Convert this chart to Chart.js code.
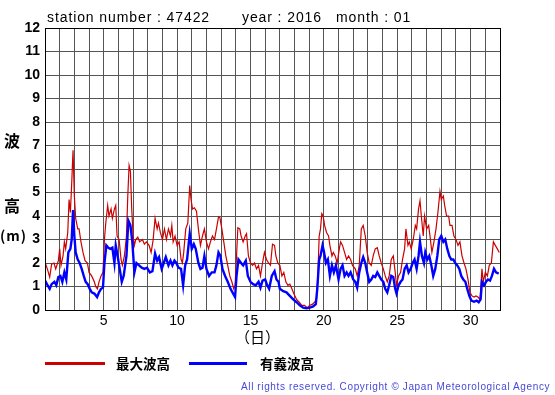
<!DOCTYPE html>
<html><head><meta charset="utf-8">
<script src="https://cdn.jsdelivr.net/npm/chart.js@4.4.0/dist/chart.umd.min.js"></script>
<style>
html,body{margin:0;padding:0;background:#fff;}
#wrap{position:relative;width:555px;height:395px;overflow:hidden;background:#fff;}
canvas{position:absolute;left:0;top:0;}
.t{position:absolute;white-space:nowrap;font-family:"Liberation Sans",Arial,sans-serif;color:#000;line-height:1;}
.j{position:absolute;white-space:nowrap;font-family:"Noto Sans CJK JP",sans-serif;color:#000;line-height:1;font-weight:bold;}
.ln{position:absolute;height:3px;}
</style></head><body>
<div id="wrap">
<canvas id="c" width="555" height="395"></canvas>
<div class="t" style="left:47px;top:10px;font-size:14px;letter-spacing:0.9px">station number : 47422</div>
<div class="t" style="left:242px;top:10px;font-size:14px;letter-spacing:0.9px">year : 2016</div>
<div class="t" style="left:336px;top:10px;font-size:14px;letter-spacing:0.9px">month : 01</div>
<div class="j" style="left:4px;top:132px;font-size:16px">波</div>
<div class="j" style="left:4px;top:197px;font-size:16px">高</div>
<div class="j" style="left:0px;top:228px;font-size:14px;letter-spacing:1px">(m)</div>
<div class="j" style="left:235px;top:329px;font-size:15px;font-weight:normal">（日）</div>
<div class="ln" style="left:45px;top:362px;width:60px;background:#cc0000"></div>
<div class="j" style="left:116px;top:357px;font-size:13.5px">最大波高</div>
<div class="ln" style="left:189px;top:362px;width:58px;background:#0000ff"></div>
<div class="j" style="left:260px;top:357px;font-size:13.5px">有義波高</div>
<div class="t" style="left:241px;top:382px;font-size:10px;letter-spacing:0.62px;color:#4848d8">All rights reserved. Copyright © Japan Meteorological Agency</div>
</div>
<script>
// 最大波高 (maximum wave height), time in days
const maxTimes = [1.00,1.16,1.32,1.45,1.61,1.73,1.91,2.00,2.09,2.23,2.32,2.41,2.55,2.64,2.73,2.82,2.91,3.00,3.09,3.23,3.32,3.45,3.59,3.73,3.89,4.00,4.18,4.36,4.45,4.57,4.68,4.82,4.95,5.05,5.14,5.27,5.36,5.50,5.59,5.73,5.82,5.91,6.05,6.18,6.27,6.41,6.55,6.64,6.73,6.82,6.91,7.00,7.09,7.18,7.32,7.45,7.64,7.77,7.91,8.09,8.23,8.36,8.50,8.64,8.73,8.86,9.00,9.14,9.27,9.41,9.55,9.64,9.73,9.86,10.00,10.14,10.27,10.36,10.45,10.59,10.73,10.86,10.95,11.05,11.18,11.32,11.45,11.59,11.73,11.86,12.00,12.14,12.27,12.41,12.55,12.68,12.82,12.91,13.05,13.18,13.32,13.45,13.59,13.73,13.86,13.95,14.05,14.14,14.27,14.36,14.50,14.64,14.73,14.86,15.00,15.14,15.27,15.41,15.55,15.68,15.82,15.95,16.09,16.23,16.36,16.50,16.64,16.73,16.86,17.00,17.14,17.27,17.41,17.55,17.68,17.82,17.95,18.14,18.32,18.50,18.68,18.86,19.05,19.23,19.36,19.50,19.59,19.68,19.77,19.86,19.95,20.05,20.18,20.32,20.41,20.55,20.64,20.77,20.91,21.05,21.14,21.27,21.41,21.55,21.68,21.82,21.95,22.14,22.27,22.41,22.55,22.68,22.82,22.95,23.09,23.23,23.36,23.50,23.64,23.77,23.91,24.05,24.18,24.32,24.45,24.59,24.73,24.86,24.95,25.09,25.23,25.36,25.50,25.59,25.73,25.82,25.95,26.09,26.23,26.32,26.45,26.55,26.64,26.77,26.86,27.00,27.14,27.23,27.36,27.50,27.64,27.77,27.91,28.00,28.14,28.23,28.36,28.50,28.59,28.73,28.86,29.00,29.14,29.27,29.41,29.55,29.68,29.82,29.95,30.09,30.23,30.36,30.50,30.64,30.77,30.86,31.00,31.14,31.27,31.41,31.55,31.68,31.82,31.95];
const maxWaves = [2.03,1.75,1.40,1.95,2.00,1.75,2.10,2.60,1.90,2.30,2.90,2.60,3.30,4.70,4.15,5.40,6.80,4.85,3.90,3.45,3.45,2.90,2.45,2.10,2.00,1.60,1.45,1.20,1.00,0.90,1.20,1.45,1.60,3.00,3.70,4.45,4.00,4.30,3.90,4.30,4.45,3.15,3.00,2.15,1.90,2.30,3.15,4.85,6.15,5.90,4.30,3.15,2.75,3.00,3.10,2.90,3.00,2.80,2.90,2.75,2.45,2.95,3.90,3.45,3.70,3.30,3.00,3.45,3.00,3.45,3.15,3.60,2.90,3.15,2.75,2.90,2.15,2.00,2.45,3.45,3.70,5.30,4.70,4.30,4.35,4.20,3.45,2.75,3.15,3.45,2.90,2.60,2.90,3.15,3.00,3.45,3.95,3.95,3.45,2.90,2.30,1.90,1.45,1.20,0.90,1.05,2.30,3.50,3.45,3.15,2.90,3.15,3.25,2.30,2.00,1.90,2.00,1.75,1.90,1.45,2.00,2.45,2.15,2.00,1.90,2.80,2.75,2.30,2.00,1.90,1.45,1.60,1.20,1.05,1.10,0.90,0.70,0.45,0.33,0.20,0.20,0.10,0.20,0.25,0.33,0.45,1.45,3.15,3.45,4.10,4.00,3.60,3.30,3.15,2.75,2.30,2.45,2.30,2.00,2.60,2.90,2.75,2.45,2.15,2.30,2.15,1.90,1.75,1.45,1.90,3.45,3.60,3.15,2.45,2.00,1.90,2.30,2.60,2.65,2.30,2.00,1.75,1.45,1.20,1.45,2.15,2.30,1.60,1.05,1.45,1.60,2.15,2.60,3.45,2.75,2.90,2.60,3.00,3.60,3.45,4.30,4.65,4.00,3.15,4.00,3.45,3.60,3.15,2.45,2.90,3.45,4.15,5.05,4.70,4.85,4.45,4.00,4.00,3.60,3.60,3.15,3.00,2.75,2.90,2.30,2.00,1.75,1.30,0.75,0.60,0.55,0.60,0.55,0.45,1.75,1.20,1.60,1.45,1.90,2.00,2.90,2.75,2.60,2.45];
// 有義波高 (significant wave height), time in days
const sigTimes = [1.00,1.18,1.32,1.45,1.64,1.77,1.91,2.05,2.18,2.32,2.45,2.59,2.73,2.82,2.91,3.00,3.09,3.23,3.36,3.50,3.64,3.77,3.91,4.05,4.18,4.36,4.55,4.68,4.82,4.95,5.05,5.18,5.32,5.45,5.59,5.73,5.82,5.95,6.09,6.23,6.36,6.55,6.68,6.82,6.95,7.09,7.23,7.41,7.59,7.77,7.95,8.14,8.32,8.50,8.64,8.77,8.95,9.09,9.23,9.41,9.55,9.68,9.82,9.95,10.09,10.27,10.41,10.55,10.68,10.86,11.00,11.14,11.27,11.45,11.59,11.73,11.86,12.00,12.18,12.36,12.55,12.68,12.82,12.95,13.09,13.27,13.45,13.64,13.82,13.95,14.05,14.18,14.36,14.50,14.68,14.82,15.00,15.18,15.36,15.55,15.68,15.82,16.00,16.14,16.27,16.45,16.64,16.77,16.91,17.00,17.23,17.45,17.68,17.91,18.14,18.36,18.59,18.82,19.05,19.27,19.45,19.55,19.68,19.77,19.91,20.00,20.14,20.27,20.41,20.55,20.68,20.82,21.00,21.14,21.27,21.41,21.55,21.68,21.82,22.00,22.14,22.27,22.41,22.55,22.68,22.82,22.95,23.09,23.23,23.36,23.50,23.64,23.77,23.91,24.05,24.18,24.32,24.45,24.59,24.73,24.86,24.95,25.09,25.23,25.36,25.50,25.64,25.77,25.91,26.05,26.18,26.32,26.45,26.55,26.68,26.82,26.91,27.05,27.18,27.32,27.45,27.59,27.73,27.86,28.00,28.14,28.27,28.41,28.55,28.68,28.82,28.95,29.09,29.23,29.36,29.50,29.64,29.77,29.91,30.05,30.23,30.41,30.55,30.68,30.77,30.91,31.05,31.18,31.32,31.45,31.59,31.73,31.91];
const sigWaves = [1.25,1.05,0.90,1.10,1.20,1.05,1.40,1.45,1.20,1.60,1.30,2.45,2.60,3.00,4.25,3.15,2.45,2.15,2.00,1.75,1.45,1.20,1.10,0.90,0.75,0.70,0.55,0.75,0.90,0.95,2.00,2.75,2.65,2.60,2.65,2.00,2.75,2.30,1.75,1.20,1.45,2.30,3.80,3.60,2.90,1.60,2.00,1.90,1.80,1.75,1.80,1.60,1.65,2.40,2.10,2.25,1.75,2.00,2.25,1.90,2.10,1.90,2.10,2.00,1.80,1.75,1.05,1.90,2.15,3.25,2.60,2.80,2.60,2.00,1.75,1.80,2.30,1.75,1.45,1.60,1.60,1.90,2.45,2.30,1.75,1.45,1.20,0.90,0.70,0.55,1.45,2.15,2.00,1.90,2.10,1.45,1.20,1.10,1.05,1.20,0.95,1.25,1.30,1.05,0.90,1.45,1.65,1.30,1.20,0.90,0.80,0.75,0.60,0.45,0.33,0.20,0.10,0.07,0.10,0.15,0.25,0.90,2.15,2.30,2.75,2.50,2.00,2.15,1.45,1.90,1.60,1.90,1.30,1.75,1.90,1.45,1.60,1.45,1.60,1.30,1.20,0.95,1.60,2.00,2.25,2.00,1.60,1.20,1.30,1.45,1.40,1.60,1.45,1.30,1.20,0.90,0.75,1.05,1.45,1.40,0.90,0.70,1.05,1.20,1.30,1.75,1.90,1.60,1.75,2.00,2.15,1.75,2.30,2.90,2.30,2.00,2.45,2.15,2.30,1.90,1.45,1.75,2.30,3.00,3.15,2.90,3.00,2.60,2.30,2.15,2.15,2.00,1.90,1.75,1.45,1.30,1.20,0.90,0.60,0.40,0.35,0.40,0.33,0.45,1.20,1.05,1.20,1.30,1.25,1.45,1.75,1.60,1.55];
const xTickLabels = [5,10,15,20,25,30];
const dayRange = [1,32];
const heightRange = [0,12];

const frame = {
  id:'frame',
  afterDraw(chart){
    const a = chart.chartArea, c = chart.ctx;
    c.save(); c.strokeStyle='#000'; c.lineWidth=1;
    c.strokeRect(Math.round(a.left)+0.5, Math.round(a.top)+0.5, Math.round(a.right-a.left), Math.round(a.bottom-a.top));
    c.restore();
  }
};

new Chart(document.getElementById('c'), {
  type:'line',
  data:{datasets:[
    {label:'有義波高', data: sigTimes.map((t,i)=>({x:t,y:sigWaves[i]})), borderColor:'#0000ff', borderWidth:2.4, pointRadius:0, tension:0, order:0},
    {label:'最大波高', data: maxTimes.map((t,i)=>({x:t,y:maxWaves[i]})), borderColor:'#cc0000', borderWidth:1.2, pointRadius:0, tension:0, order:1}
  ]},
  options:{
    responsive:false, animation:false, devicePixelRatio:1,
    layout:{padding:{left:0,top:28,right:55,bottom:0}},
    plugins:{legend:{display:false}, tooltip:{enabled:false}},
    scales:{
      x:{type:'linear', min:dayRange[0], max:dayRange[1],
         ticks:{stepSize:1, autoSkip:false, maxRotation:0, minRotation:0,
                callback:v => xTickLabels.includes(v) ? String(v) : '',
                font:{family:'Liberation Sans', size:14}, color:'#000', padding:3},
         grid:{color:'#555', drawTicks:false, lineWidth:1},
         border:{color:'#000', width:1},
         afterFit:s => { s.height = 85; }},
      y:{min:heightRange[0], max:heightRange[1],
         ticks:{stepSize:1, font:{family:'Liberation Sans', size:14, weight:'bold'}, color:'#000', padding:5},
         grid:{color:'#555', drawTicks:false, lineWidth:1},
         border:{color:'#000', width:1},
         afterFit:s => { s.width = 45; }}
    }
  },
  plugins:[frame]
});
</script>
</body></html>
